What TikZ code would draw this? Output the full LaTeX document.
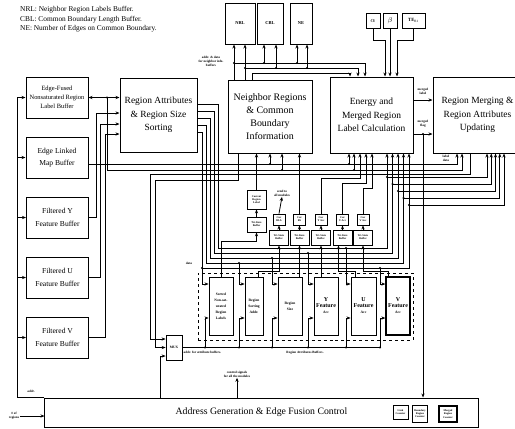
\documentclass[tikz,border=0pt]{standalone}
\usepackage{fontspec}
\setmainfont{Liberation Serif}
\usetikzlibrary{arrows.meta,positioning,calc}
\newcommand\accbig{\fontsize{6}{7}\selectfont}
\tikzset{blk/.style={draw,line width=1bp,align=center,inner sep=1bp,font=\fontsize{9.5}{13.5}\selectfont},
  buf/.style={draw,line width=1bp,align=center,inner sep=1bp,minimum width=62bp,minimum height=41bp,font=\fontsize{7.6}{12.5}\selectfont},
  nbuf/.style={draw,line width=1bp,align=center,inner sep=.5bp,minimum height=41bp,font=\bfseries\fontsize{4.5}{5}\selectfont},
  attr/.style={draw,line width=.9bp,align=center,inner sep=.3bp,minimum height=58bp,font=\bfseries\fontsize{3.6}{6}\selectfont},
  sml/.style={draw,line width=.8bp,align=center,inner sep=.2bp,font=\bfseries\fontsize{2.7}{3.1}\selectfont},
  lbl/.style={align=center,inner sep=.5bp,font=\bfseries\fontsize{3.3}{4}\selectfont},
  legend/.style={anchor=west,inner sep=0,font=\fontsize{7.4}{8}\selectfont},
  flow/.style={-{Stealth[length=4bp,width=3.2bp]},line width=.8bp},
  wire/.style={line width=.8bp}}

\begin{document}
\begin{tikzpicture}[x=1bp,y=-1bp]
\useasboundingbox (0,0) rectangle (515,428);
% legend
\node[legend] (lg1) at (20,10) {NRL: Neighbor Region Labels Buffer.};
\node[legend] (lg2) at (20,19.5) {CBL: Common Boundary Length Buffer.};
\node[legend] (lg3) at (20,29) {NE: Number of Edges on Common Boundary.};
% input buffers
\node[buf,font=\fontsize{6.5}{9.3}\selectfont] (efb) at (57,97.5) {Edge-Fused\\Nonsaturated Region\\Label Buffer};
\node[buf] (elb) at (57,157.5) {Edge Linked\\Map Buffer};
\node[buf] (fyb) at (57.5,217.5) {Filtered Y\\Feature Buffer};
\node[buf] (fub) at (57.5,277.5) {Filtered U\\Feature Buffer};
\node[buf] (fvb) at (57.5,337.5) {Filtered V\\Feature Buffer};
% main blocks
\node[blk,minimum width=77bp,minimum height=74bp] (ra) at (158.5,115) {Region Attributes\\\& Region Size\\Sorting};
\node[blk,minimum width=84bp,minimum height=73bp,font=\fontsize{10}{13.3}\selectfont] (nr) at (270,116.5) {Neighbor Regions\\\& Common\\Boundary\\Information};
\node[blk,minimum width=83bp,minimum height=76bp] (em) at (371.5,115) {Energy and\\Merged Region\\Label Calculation};
\node[blk,minimum width=89bp,minimum height=76bp] (rm) at (477.5,115) {Region Merging \&\\Region Attributes\\Updating};
\node[blk,minimum width=433bp,minimum height=29bp,font=\fontsize{9.8}{11}\selectfont] (agc) at (261.5,412.5) {Address Generation \& Edge Fusion Control};
% neighbor info buffers and parameters
\node[nbuf,minimum width=30bp] (nrl) at (240,23.5) {NRL};
\node[nbuf,minimum width=26bp] (cbl) at (270,23.5) {CBL};
\node[nbuf,minimum width=22bp] (ne) at (301,23.5) {NE};
\node[blk,line width=.8bp,minimum width=14bp,minimum height=15bp,font=\fontsize{7}{8}\selectfont] (alpha) at (373,20.5) {$\alpha$};
\node[blk,line width=.8bp,minimum width=14bp,minimum height=15bp,font=\fontsize{7}{8}\selectfont] (beta) at (390,20.5) {$\beta$};
\node[blk,line width=.8bp,minimum width=23bp,minimum height=15bp,font=\bfseries\fontsize{4.8}{6}\selectfont] (te) at (413.5,20.5) {TE$_{\mathrm{R1}}$};
% small units
\node[sml,minimum width=16bp,minimum height=25bp,font=\bfseries\fontsize{3.5}{4}\selectfont] (mux) at (174,347.5) {MUX};
\node[sml,minimum width=19bp,minimum height=19bp] (crl) at (256.5,199.5) {Current\\Region\\Label};
\node[sml,minimum width=19bp,minimum height=15bp] (tb0) at (256.5,224.5) {Tri-State\\Buffer};
\foreach \i/\x/\t in {1/279/RLb,2/299.5/RS,3/321/Y Acc,4/342.5/U Acc,5/363/V Acc}{
  \node[sml,minimum width=19bp,minimum height=15bp] (tb\i) at (\x,237.5) {Tri-State\\Buffer};
  \node[sml,minimum width=12bp,minimum height=11bp] (cur\i) at (\x,219.5) {Cur\\\t};
  \draw[flow] (tb\i.north) -- (cur\i.south);
}
% region attributes buffers
\node[draw,dashed,line width=.8bp,minimum width=215bp,minimum height=67bp] (rab) at (305.5,306.5) {};
\node[attr,minimum width=24bp] (sortbuf) at (221,306) {Sorted\\Non-sat-\\urated\\Region\\Labels};
\node[attr,minimum width=18bp] (rsabuf) at (254,306) {Region\\Sorting\\Addr.};
\node[attr,minimum width=24bp] (rsbuf) at (290,306) {Region\\Size};
\node[attr,minimum width=24bp] (ybuf) at (326,306) {{\accbig Y}\\{\accbig Feature}\\Acc};
\node[attr,minimum width=25bp] (ubuf) at (363.5,306) {{\accbig U}\\{\accbig Feature}\\Acc};
\node[attr,minimum width=24bp,line width=1.3bp] (vbuf) at (398,306) {{\accbig V}\\{\accbig Feature}\\Acc};
% counters
\node[sml,minimum width=15bp,minimum height=14bp] (lc) at (400.5,412) {Link\\Counter};
\node[sml,minimum width=15bp,minimum height=17bp] (brc) at (420,413.5) {Boundary\\Region\\Counter};
\node[sml,minimum width=18bp,minimum height=16bp,line width=1.4bp] (mrc) at (448,414) {Merged\\Region\\Counter};
% labels
\node[lbl] (nblab) at (211,61) {addr. \& data\\for neighbor info.\\buffers};
\node[lbl] (mllab) at (423,91) {merged\\label};
\node[lbl] (mflab) at (423,124) {merged\\flag};
\node[lbl] (ldlab) at (446,158) {label\\data};
\node[lbl] (allab) at (282,193) {send to\\all modules};
\node[lbl] (dlab) at (189,263) {data};
\node[lbl,anchor=west] (aablab) at (183,352.5) {addr. for attribute buffers.};
\node[lbl] (rablab) at (305,352.5) {Region Attributes Buffers.};
\node[lbl] (cslab) at (237,374) {control signals\\for all the modules};
\node[lbl] (adlab) at (31,391) {addr.};
\node[lbl] (nrglab) at (14,416) {\# of\\regions};

% left address bus
\coordinate (lbus) at (17,0);
\draw[flow] (agc.north west) -| (lbus |- efb.west) -- (efb.west);
\foreach \b in {elb,fyb,fub,fvb}
  \draw[flow] (lbus |- \b.west) -- (\b.west);
\draw[flow] (nrglab.east) -- (agc.west |- nrglab.east);
% label and edge map lines
\coordinate (j1) at (107,97.5);
\draw[{Stealth[length=4bp,width=3.2bp]}-{Stealth[length=4bp,width=3.2bp]},line width=.8bp] (efb.east) -- (ra.west |- efb.east);
\fill (j1) circle (1.2bp);
\draw[flow] (j1) |- (462,170) -- (rm.south -| 462,0);
\draw[flow] ([yshift=-6.5bp]elb.east) -| (rm.south -| 457,0);
\foreach \x/\y/\n in {270/164/nr,349/164/em,282/170/nr,354/170/em}{
  \fill (\x,\y) circle (1.2bp);
  \draw[flow] (\x,\y) -- (\n.south -| \x,0);
}
% feature buffers
\draw[flow] (fyb.east) -| (96,113) -- (ra.west |- 0,113);
\draw[flow] (fub.east) -| (100,124) -- (ra.west |- 0,124);
\draw[flow] (fvb.east) -| (105,134) -- (ra.west |- 0,134);
% attribute data bus
\foreach \k in {0,...,4}{
  \pgfmathsetmacro\ye{104+7*\k}
  \pgfmathsetmacro\xl{218-4*\k}
  \pgfmathsetmacro\yb{248+5*\k}
  \pgfmathsetmacro\xr{387+5.5*\k}
  \pgfmathsetmacro\yr{177+7*\k}
  \pgfmathsetmacro\rr{487+4.25*\k}
  \draw[flow] (ra.east |- 0,\ye) -| (\xl,\yb) -| (em.south -| \xr,0);
  \fill (\xr,\yr) circle (1.2bp);
  \draw[flow] (\xr,\yr) -| (rm.south -| \rr,0);
}
\foreach \x/\y/\b in {202/268/sortbuf,239/263/rsabuf,272/258/rsbuf,308/253/ybuf,346/248/ubuf,380/268/vbuf}{
  \fill (\x,\y) circle (1.2bp);
  \draw[flow] (\x,\y) |- (\b.west |- 0,284);
}
% attribute buffer addresses
\coordinate (abend) at (380,347.5);
\draw[wire] (mux.east) -- (abend);
\foreach \x/\b in {205/sortbuf,239/rsabuf,272/rsbuf,308/ybuf,346/ubuf,380/vbuf}{
  \fill (\x,347.5) circle (1.2bp);
  \draw[flow] (\x,347.5) |- (\b.west |- 0,318);
}
\draw[flow] (nr.south -| 238,0) |- (155,180) |- (mux.west |- 0,347.5);
\draw[flow] (rm.south -| 470,0) |- (150,174) |- (mux.west |- 0,339);
\draw[flow] (agc.north -| 160,0) |- (mux.west |- 0,356);
% tri-state buffers and current values
\draw[flow] (sortbuf.north) |- (tb0.south |- 0,241) -- (tb0.south);
\draw[flow] (tb0.north) -- (crl.south);
\draw[flow] (crl.north) -- (nr.south -| crl.north);
\draw[flow] ([xshift=4bp]rsabuf.north) |- (tb1.south |- 0,271) -- (tb1.south);
\draw[flow] (rsbuf.north -| tb2.south) -- (tb2.south);
\draw[flow] (ybuf.north -| tb3.south) -- (tb3.south);
\draw[flow] ([xshift=-8bp]ubuf.north) |- ([xshift=-4bp]tb4.south |- 0,271) -- ([xshift=-4bp]tb4.south);
\draw[flow] ([xshift=-10bp]vbuf.north) |- (tb5.south |- 0,271) -- (tb5.south);
\draw[flow] (cur1.north) -- (allab.south);
\draw[flow] (cur2.north) -- (nr.south -| cur2.north);
\foreach \i/\y/\x in {3/178/360,4/183/366,5/188/372}
  \draw[flow] (cur\i.north) |- (\x,\y) -- (em.south -| \x,0);
% neighbor info buffers
\draw[flow] (nr.north -| 234,0) -- (nrl.south -| 234,0);
\draw[flow] (nr.north -| 245,0) -- (nrl.south -| 245,0);
\fill (234,63) circle (1.2bp); \fill (245,68) circle (1.2bp);
\draw[flow] (234,63) -| (em.north -| 365,0);
\draw[flow] (245,68) -| (em.north -| 358,0);
\draw[flow] (nr.north -| 252,0) |- (350,73) -- (em.north -| 350,0);
\foreach \x/\y/\b in {264/63/cbl,297/63/ne,276/68/cbl,307/68/ne}{
  \fill (\x,\y) circle (1.2bp);
  \draw[flow] (\x,\y) -- (\b.south -| \x,0);
}
% parameters
\draw[flow] (alpha.south) |- (385,40) -- (em.north -| 385,0);
\draw[flow] (beta.south) -- (em.north -| beta.south);
\draw[flow] (te.south) |- (397,40) -- (em.north -| 397,0);
% merging
\draw[flow] (em.east |- 0,100) -- (rm.west |- 0,100);
\draw[flow] (em.east |- 0,134) -- (rm.west |- 0,134);
\fill (423,134) circle (1.2bp);
\draw[flow] (423,134) -- (agc.north -| 423,0);
\draw[flow] (agc.north -| cslab.south) -- (cslab.south);
\end{tikzpicture}
\end{document}
